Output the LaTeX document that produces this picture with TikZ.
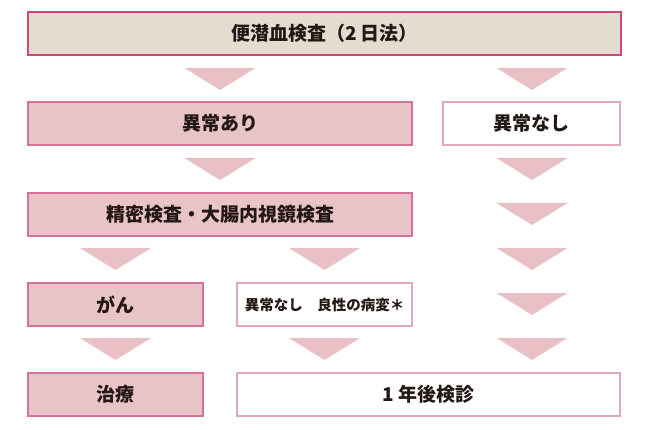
\documentclass[tikz,border=0pt]{standalone}
\usepackage{fontspec}
\setmainfont{Noto Sans CJK JP}
\definecolor{beigefill}{HTML}{E4DDCF}
\definecolor{topborder}{HTML}{D2457A}
\definecolor{pinkfill}{HTML}{E8C3C8}
\definecolor{pinkborder}{HTML}{D4739A}
\definecolor{lightborder}{HTML}{E3A6BC}
\definecolor{trifill}{HTML}{E8C0C6}
\definecolor{txt}{HTML}{231815}
\tikzset{
  box/.style={rectangle, inner sep=0pt, line width=1.2pt, text=txt,
    font=\fontsize{19}{22}\selectfont\bfseries},
  topbox/.style={box, fill=beigefill, draw=topborder},
  pinkbox/.style={box, fill=pinkfill, draw=pinkborder},
  whitebox/.style={box, fill=white, draw=lightborder},
  tri/.style={fill=trifill}
}
\newcommand{\downtri}[2]{\fill[tri] (#1-35.5,#2) -- (#1+35.5,#2) -- (#1,#2+22) -- cycle;}
\begin{document}
\begin{tikzpicture}[x=1pt,y=-1pt]
\useasboundingbox (0,0) rectangle (650,430);
% boxes
\node[topbox, minimum width=593pt, minimum height=43pt] (top) at (324.5,33.5) {便潜血検査（2 日法）};
\node[pinkbox, minimum width=384pt, minimum height=43pt] (ari) at (220,123.5) {異常あり};
\node[whitebox, minimum width=177pt, minimum height=43pt] (nashi) at (531.5,123.5) {異常なし};
\node[pinkbox, minimum width=384pt, minimum height=43pt] (seimitsu) at (220,214.5) {精密検査・大腸内視鏡検査};
\node[pinkbox, minimum width=175pt, minimum height=43pt] (gan) at (115.5,304.5) {がん};
\node[whitebox, minimum width=175pt, minimum height=43pt, font=\fontsize{14.5}{17}\selectfont\bfseries] (ryosei) at (324.5,304.5) {異常なし\hspace{1em}良性の病変＊};
\node[pinkbox, minimum width=175pt, minimum height=43pt] (chiryo) at (115.5,394.5) {治療};
\node[whitebox, minimum width=383pt, minimum height=43pt] (kenshin) at (428.5,394.5) {1 年後検診};
% triangles (flow markers)
\downtri{220}{68}
\downtri{532}{68}
\downtri{220}{158}
\downtri{532}{158}
\downtri{532}{203}
\downtri{115.5}{248}
\downtri{324.5}{248}
\downtri{532}{248}
\downtri{532}{293}
\downtri{115.5}{338}
\downtri{324.5}{338}
\downtri{532}{338}
\end{tikzpicture}
\end{document}
